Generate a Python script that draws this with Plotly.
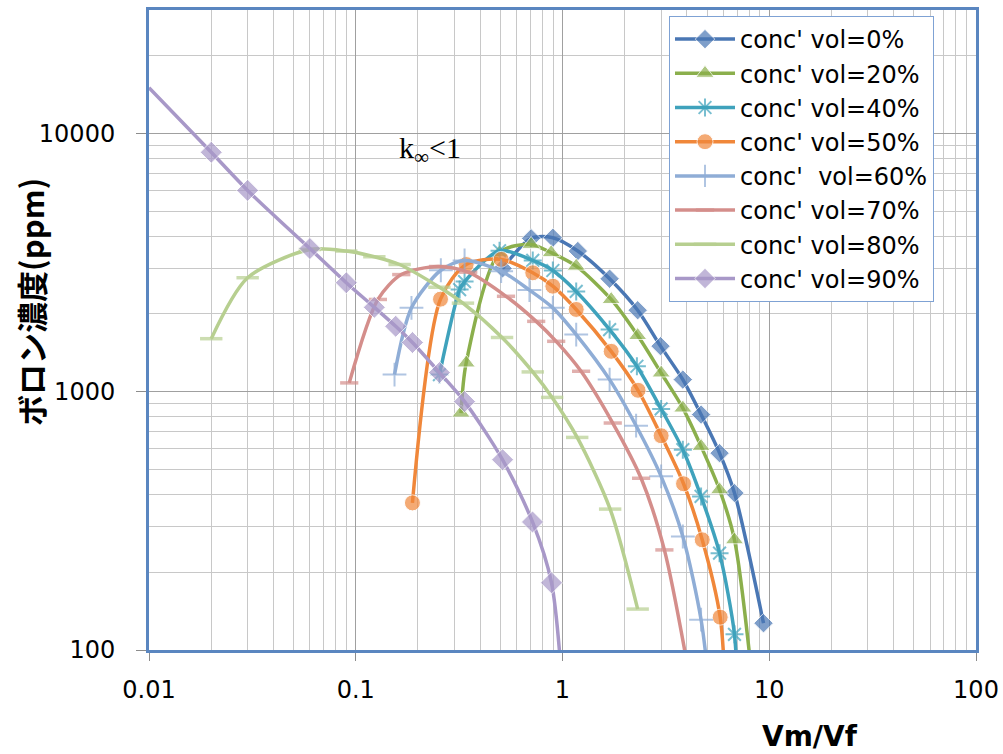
import plotly.graph_objects as go

# ---- data ----
x_0 = [0.513, 0.705, 0.898, 1.186, 1.69, 2.31, 2.98, 3.82, 4.68, 5.75, 6.79, 9.38]
y_0 = [3000, 3920, 3940, 3500, 2735, 2066, 1500, 1113, 815, 578, 405, 127]

x_20 = [0.323, 0.342, 0.496, 0.705, 0.881, 1.165, 1.72, 2.31, 3.0, 3.82, 4.68, 5.75, 6.79, 8.3]
y_20 = [826, 1291, 3450, 3715, 3450, 3060, 2274, 1649, 1181, 864, 614, 417, 267, 75]

x_40 = [0.254, 0.318, 0.336, 0.496, 0.718, 0.898, 1.165, 1.69, 2.29, 3.0, 3.82, 4.68, 5.75, 6.79, 7.0]
y_40 = [1164, 2483, 2667, 3510, 3220, 2944, 2443, 1738, 1254, 857, 596, 393, 237, 115, 70]

x_50 = [0.188, 0.257, 0.342, 0.505, 0.718, 0.898, 1.165, 1.72, 2.32, 3.0, 3.85, 4.74, 5.79, 6.1]
y_50 = [371, 2280, 3105, 3250, 2884, 2559, 2080, 1432, 1012, 675, 440, 267, 134, 75]

x_60 = [0.154, 0.186, 0.258, 0.336, 0.505, 0.692, 0.898, 1.165, 1.69, 2.27, 3.0, 3.82, 4.68, 5.1]
y_60 = [1164, 2110, 2950, 3220, 2926, 2472, 2110, 1663, 1113, 738, 470, 275, 131, 75]

x_70 = [0.093, 0.128, 0.166, 0.25, 0.35, 0.533, 0.746, 0.932, 1.23, 1.75, 2.40, 3.11, 4.1]
y_70 = [1081, 2274, 2838, 3050, 2900, 2339, 1871, 1566, 1199, 756, 462, 244, 80]

x_80 = [0.02, 0.03, 0.06, 0.09, 0.123, 0.163, 0.254, 0.33, 0.51, 0.718, 0.891, 1.178, 1.70, 2.31]
y_80 = [1603, 2760, 3550, 3500, 3327, 3105, 2535, 2200, 1620, 1192, 950, 665, 351, 144]

x_90 = [0.01, 0.02, 0.03, 0.06, 0.09, 0.123, 0.156, 0.188, 0.254, 0.336, 0.513, 0.716, 0.885, 1.0]
y_90 = [15000, 8440, 6010, 3580, 2640, 2120, 1790, 1549, 1185, 915, 545, 313, 182, 70]

series_names = ["conc' vol=0%", "conc' vol=20%", "conc' vol=40%", "conc' vol=50%",
                "conc' \u00a0vol=60%", "conc' vol=70%", "conc' vol=80%", "conc' vol=90%"]

x_tick_vals = [0.01, 0.1, 1, 10, 100]
x_tick_text = ["0.01", "0.1", "1", "10", "100"]
y_tick_vals = [100, 1000, 10000]
y_tick_text = ["100", "1000", "10000"]

x_title = "Vm/Vf"
y_title = "ボロン濃度(ppm)"
note_text = "k<sub>∞</sub>&lt;1"

# ---- styles ----
styles = [
    dict(color="#4A77B4", symbol="diamond", size=15, lw=0),
    dict(color="#8BAF4C", symbol="triangle-up", size=16, lw=0),
    dict(color="#3FA2BC", symbol="asterisk-open", size=15, lw=2),
    dict(color="#F0873A", symbol="circle", size=16, lw=0),
    dict(color="#8FADD6", symbol="cross-thin-open", size=17, lw=2),
    dict(color="#D48E8B", symbol="line-ew-open", size=13, lw=3.5),
    dict(color="#B7CF90", symbol="line-ew-open", size=16, lw=3.5),
    dict(color="#A898C8", symbol="diamond", size=17, lw=0),
]

xs = [x_0, x_20, x_40, x_50, x_60, x_70, x_80, x_90]
ys = [y_0, y_20, y_40, y_50, y_60, y_70, y_80, y_90]

fig = go.Figure()
for name, x, y, st in zip(series_names, xs, ys, styles):
    sizes = [st["size"]] * len(x)
    if name.endswith("90%"):
        sizes[0] = 0  # line enters from the left edge without a marker
    marker = dict(symbol=st["symbol"], size=sizes, color=st["color"])
    if st["lw"]:
        marker["line"] = dict(color=st["color"], width=st["lw"])
    fig.add_trace(go.Scatter(
        x=x, y=y, name=name, mode="lines+markers",
        line=dict(color=st["color"], width=3.5, shape="spline", smoothing=0.8),
        marker=marker,
    ))

W, H = 1003, 754
PL, PR, PT, PB = 149, 976, 10, 650          # plot area in screen pixels
L, T = PL, PT
R = W - PR
B = H - PB
frame_blue = "#5A86C0"

def minor_vals(lo_exp, hi_exp, top=None):
    vals = []
    for e in range(lo_exp, hi_exp + 1):
        for m in range(2, 10):
            v = m * 10 ** e
            if top is None or v <= top:
                vals.append(v)
    return vals

pw = PR - PL
ph = PB - PT
def px_to_paper(px, py):
    return (px - PL) / pw, (PB - py) / ph

lx, ly = px_to_paper(669, 16)

fig.update_layout(
    width=W, height=H,
    margin=dict(l=L, r=R, t=T, b=B, autoexpand=False),
    paper_bgcolor="white", plot_bgcolor="white",
    font=dict(family="DejaVu Sans", size=24, color="black"),
    showlegend=True,
    legend=dict(
        x=lx, y=ly, xanchor="left", yanchor="top",
        bgcolor="white", bordercolor="#7FA2D4", borderwidth=1,
        font=dict(family="DejaVu Sans", size=24, color="black"),
        tracegroupgap=0, itemwidth=60,
    ),
    xaxis=dict(
        type="log", range=[-2, 2],
        tickmode="array", tickvals=x_tick_vals, ticktext=x_tick_text,
        ticks="outside", ticklen=8, tickcolor="#8C8C8C", tickwidth=1,
        ticklabelstandoff=8,
        showgrid=True, gridcolor="#A0A0A0", gridwidth=1.3,
        minor=dict(tickmode="array", tickvals=minor_vals(-2, 1), showgrid=True,
                   gridcolor="#C8C8C8", gridwidth=1.3),
        showline=True, linecolor=frame_blue, linewidth=3, mirror=True,
        zeroline=False,
        tickfont=dict(family="DejaVu Sans", size=24),
    ),
    yaxis=dict(
        type="log", range=[2, 4.4771],
        tickmode="array", tickvals=y_tick_vals, ticktext=y_tick_text,
        ticks="outside", ticklen=10, tickcolor="#8C8C8C", tickwidth=1,
        ticklabelstandoff=16,
        showgrid=True, gridcolor="#A0A0A0", gridwidth=1.3,
        minor=dict(tickmode="array", tickvals=minor_vals(2, 4, top=30000), showgrid=True,
                   gridcolor="#C8C8C8", gridwidth=1.3),
        showline=True, linecolor=frame_blue, linewidth=3, mirror=True,
        zeroline=False,
        tickfont=dict(family="DejaVu Sans", size=24),
    ),
)

# white box behind the k-infinity note
bx0, by0 = px_to_paper(380, 183)
bx1, by1 = px_to_paper(522, 115)
fig.add_shape(type="rect", xref="paper", yref="paper", x0=bx0, y0=by0, x1=bx1, y1=by1,
              fillcolor="white", line=dict(width=0), layer="between")

nx, ny = px_to_paper(430, 150)
fig.add_annotation(xref="paper", yref="paper", x=nx, y=ny, text=note_text, showarrow=False,
                   font=dict(family="Liberation Serif", size=30, color="black"),
                   xanchor="center", yanchor="middle")

tx, ty = px_to_paper(810, 736)
fig.add_annotation(xref="paper", yref="paper", x=tx, y=ty, text="<b>" + x_title + "</b>",
                   showarrow=False, font=dict(family="DejaVu Sans", size=28, color="black"),
                   xanchor="center", yanchor="middle")

yx, yy = px_to_paper(30, 302)
fig.add_annotation(xref="paper", yref="paper", x=yx, y=yy, text="<b>" + y_title + "</b>",
                   showarrow=False, textangle=-90,
                   font=dict(family="Noto Sans CJK JP", size=31, color="black"),
                   xanchor="center", yanchor="middle")

fig.write_html("out.html",
               config={"displayModeBar": False},
               post_script="document.body.style.margin='0px';document.body.style.overflow='hidden';")
